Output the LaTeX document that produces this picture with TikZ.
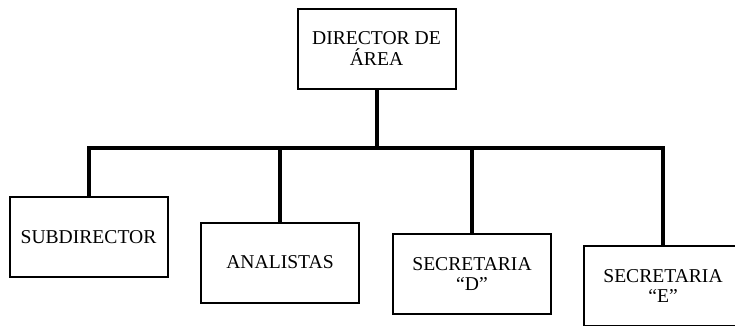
\documentclass[tikz,border=0pt]{standalone}
\usepackage{fontspec}
\setmainfont{Liberation Serif}
\usetikzlibrary{positioning}

\begin{document}
\begin{tikzpicture}[x=1pt,y=1pt,
  puesto/.style={draw, line width=2pt, minimum width=158pt, minimum height=80pt,
    align=center, inner sep=2pt, font=\fontsize{19.6}{20.5}\selectfont},
  linea/.style={line width=4pt}]
\useasboundingbox (0,0) rectangle (735,325);
\clip (0,0) rectangle (735,325);
% boxes
\node[puesto] (dir)  at (376.5,276.5) {DIRECTOR DE\\ÁREA};
\node[puesto] (sub)  at (88.5,88)     {SUBDIRECTOR};
\node[puesto] (ana)  at (280,62.5)    {ANALISTAS};
\node[puesto] (secd) at (472,51)      {SECRETARIA\\“D”};
\node[puesto] (sece) at (663,39)      {SECRETARIA\\“E”};
% connectors
\coordinate (bus) at (376.5,177);
\draw [linea] (dir.south) -- (bus);
\foreach \b in {sub,ana,secd,sece}
{
\draw [linea] (bus) -| (\b.north);
}
\end{tikzpicture}
\end{document}
